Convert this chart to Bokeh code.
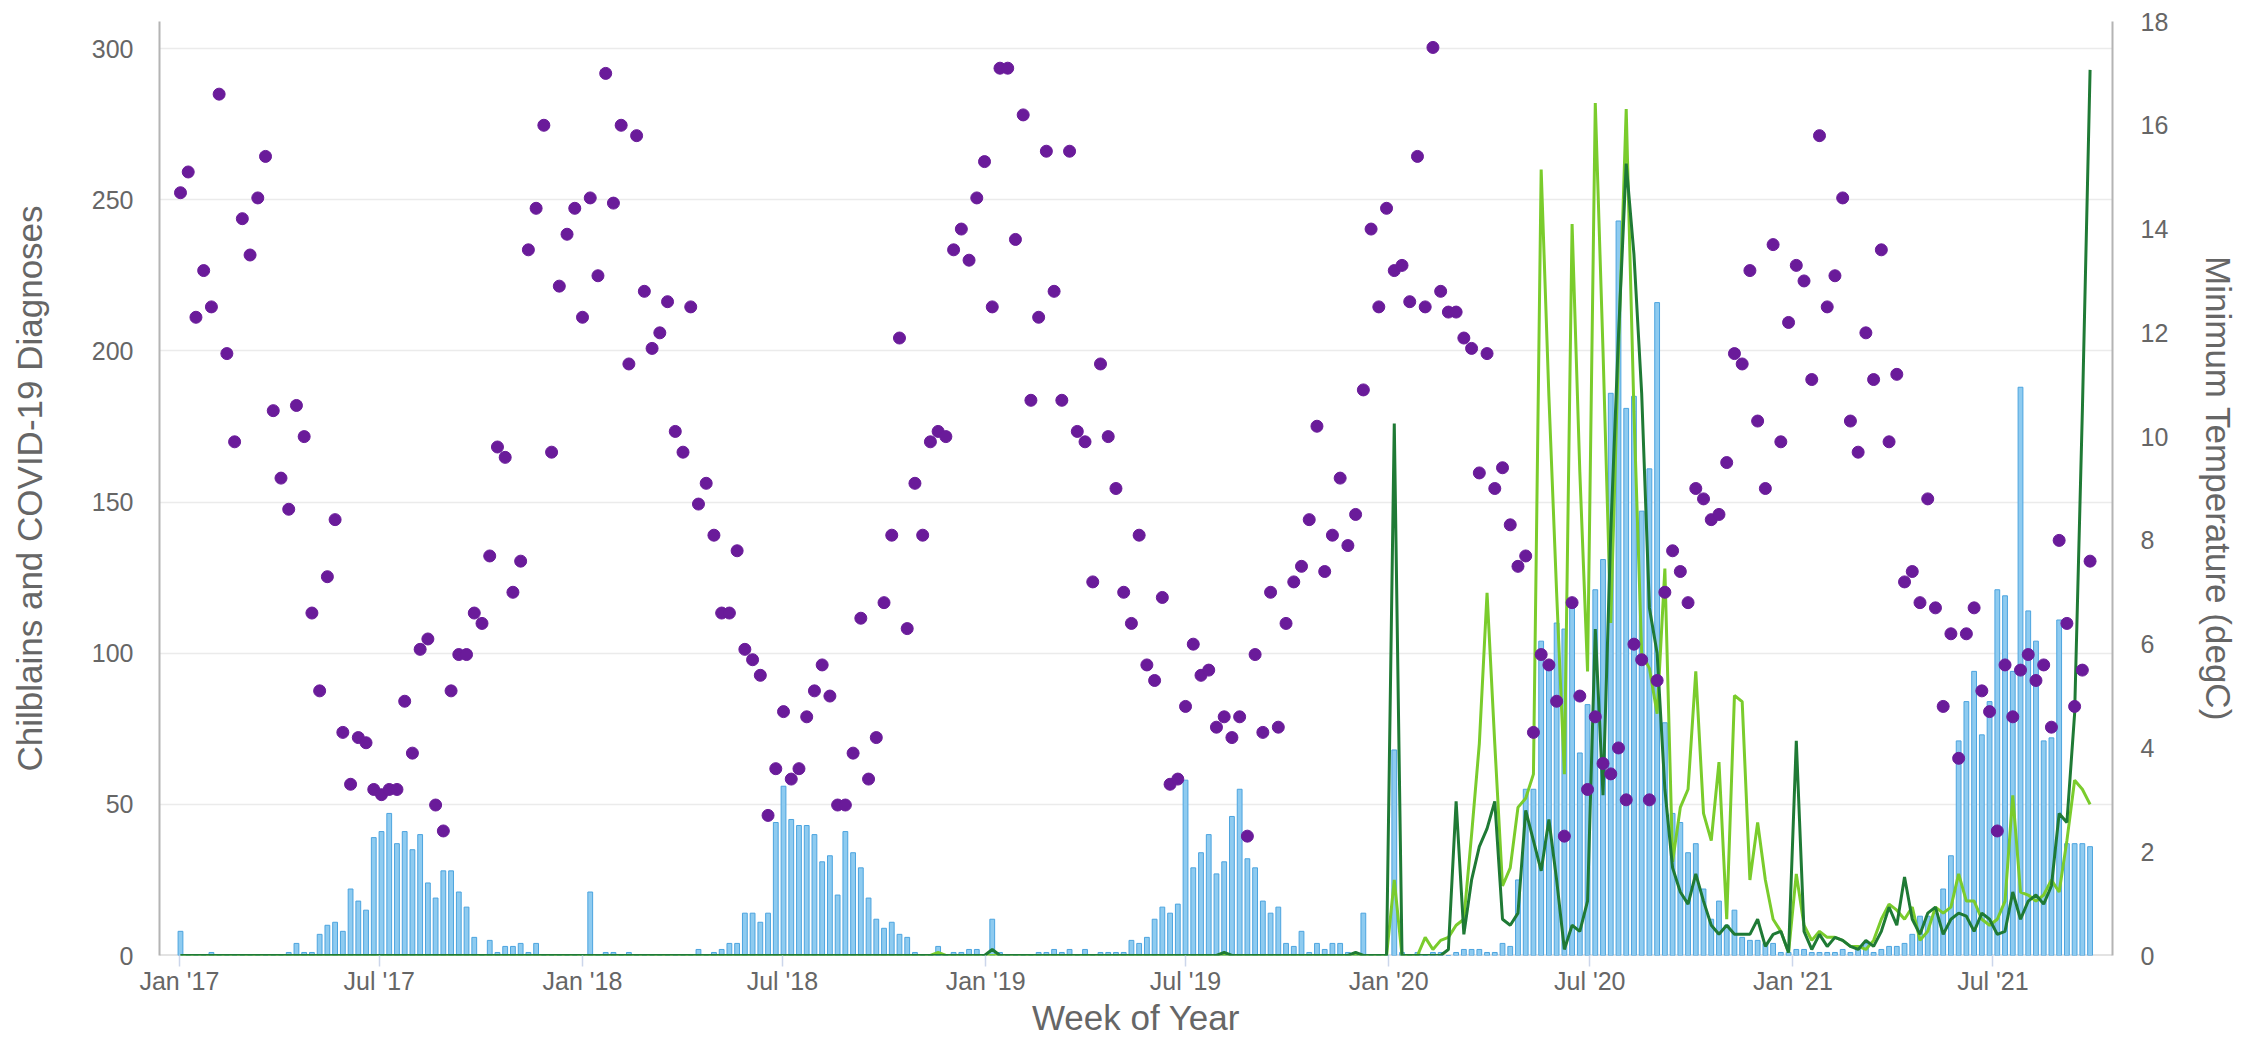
import datetime as dt
from bokeh.plotting import figure
from bokeh.models import (Range1d, LinearAxis, FixedTicker, DatetimeTickFormatter,
                          ColumnDataSource, SingleIntervalTicker, Span)
from bokeh.embed import file_html
from bokeh.resources import INLINE

FIRST_WEEK = dt.datetime(2017, 1, 2)
tick_dates = [dt.datetime(y, m, 1) for y in range(2017, 2022) for m in (1, 7)]

# weekly chilblains diagnoses (left axis)
chilblains = [
    8, 0, 0, 0, 1, 0, 0, 0, 0, 0,
    0, 0, 0, 0, 1, 4, 1, 1, 7, 10,
    11, 8, 22, 18, 15, 39, 41, 47, 37, 41,
    35, 40, 24, 19, 28, 28, 21, 16, 6, 0,
    5, 1, 3, 3, 4, 1, 4, 0, 0, 0,
    0, 0, 0, 21, 0, 1, 1, 0, 1, 0,
    0, 0, 0, 0, 0, 0, 0, 2, 0, 1,
    2, 4, 4, 14, 14, 11, 14, 44, 56, 45,
    43, 43, 40, 31, 33, 20, 41, 34, 29, 19,
    12, 9, 11, 7, 6, 1, 0, 0, 3, 0,
    1, 1, 2, 2, 0, 12, 1, 0, 0, 0,
    0, 1, 1, 2, 1, 2, 0, 2, 0, 1,
    1, 1, 1, 5, 4, 6, 12, 16, 14, 17,
    58, 29, 34, 40, 27, 31, 46, 55, 32, 29,
    18, 14, 16, 4, 3, 8, 1, 4, 2, 4,
    4, 1, 1, 14, 0, 0, 0, 68, 1, 0,
    1, 0, 1, 1, 0, 1, 2, 2, 2, 1,
    1, 4, 3, 25, 55, 55, 104, 97, 110, 108,
    117, 67, 83, 121, 131, 186, 243, 181, 185, 147,
    161, 216, 77, 47, 44, 34, 37, 22, 12, 18,
    10, 15, 6, 5, 5, 4, 4, 1, 1, 2,
    2, 1, 1, 1, 1, 2, 1, 2, 4, 1,
    2, 3, 3, 4, 7, 13, 13, 14, 22, 33,
    71, 84, 94, 73, 84, 121, 119, 94, 188, 114,
    104, 71, 72, 111, 37, 37, 37, 36,
]

# weekly COVID-19 diagnoses, first series (light green, left axis)
covid_a = [
    0, 0, 0, 0, 0, 0, 0, 0, 0, 0,
    0, 0, 0, 0, 0, 0, 0, 0, 0, 0,
    0, 0, 0, 0, 0, 0, 0, 0, 0, 0,
    0, 0, 0, 0, 0, 0, 0, 0, 0, 0,
    0, 0, 0, 0, 0, 0, 0, 0, 0, 0,
    0, 0, 0, 0, 0, 0, 0, 0, 0, 0,
    0, 0, 0, 0, 0, 0, 0, 0, 0, 0,
    0, 0, 0, 0, 0, 0, 0, 0, 0, 0,
    0, 0, 0, 0, 0, 0, 0, 0, 0, 0,
    0, 0, 0, 0, 0, 0, 0, 0, 1, 0,
    0, 0, 0, 0, 0, 0, 0, 0, 0, 0,
    0, 0, 0, 0, 0, 0, 0, 0, 0, 0,
    0, 0, 0, 0, 0, 0, 0, 0, 0, 0,
    0, 0, 0, 0, 0, 0, 0, 0, 0, 0,
    0, 0, 0, 0, 0, 0, 0, 0, 0, 0,
    0, 0, 0, 0, 0, 0, 0, 25, 0, 0,
    0, 6, 2, 5, 6, 10, 12, 40, 70, 120,
    70, 23, 29, 49, 52, 60, 260, 185, 120, 60,
    242, 160, 94, 282, 200, 110, 200, 280, 180, 100,
    95, 80, 128, 31, 49, 55, 94, 47, 38, 64,
    12, 86, 84, 25, 44, 25, 12, 8, 1, 27,
    10, 5, 8, 6, 6, 5, 3, 3, 2, 5,
    12, 17, 15, 12, 16, 5, 8, 16, 14, 16,
    27, 18, 18, 12, 10, 12, 18, 53, 21, 20,
    18, 20, 25, 21, 38, 58, 55, 50,
]

# weekly COVID-19 diagnoses, second series (dark green, left axis)
covid_b = [
    0, 0, 0, 0, 0, 0, 0, 0, 0, 0,
    0, 0, 0, 0, 0, 0, 0, 0, 0, 0,
    0, 0, 0, 0, 0, 0, 0, 0, 0, 0,
    0, 0, 0, 0, 0, 0, 0, 0, 0, 0,
    0, 0, 0, 0, 0, 0, 0, 0, 0, 0,
    0, 0, 0, 0, 0, 0, 0, 0, 0, 0,
    0, 0, 0, 0, 0, 0, 0, 0, 0, 0,
    0, 0, 0, 0, 0, 0, 0, 0, 0, 0,
    0, 0, 0, 0, 0, 0, 0, 0, 0, 0,
    0, 0, 0, 0, 0, 0, 0, 0, 0, 0,
    0, 0, 0, 0, 0, 2, 0, 0, 0, 0,
    0, 0, 0, 0, 0, 0, 0, 0, 0, 0,
    0, 0, 0, 0, 0, 0, 0, 0, 0, 0,
    0, 0, 0, 0, 0, 1, 0, 0, 0, 0,
    0, 0, 0, 0, 0, 0, 0, 0, 0, 0,
    0, 0, 1, 0, 0, 0, 0, 176, 0, 0,
    0, 0, 0, 0, 2, 51, 7, 25, 36, 42,
    51, 12, 10, 14, 48, 38, 28, 45, 25, 2,
    10, 8, 18, 108, 53, 140, 205, 262, 232, 186,
    115, 100, 55, 29, 21, 17, 27, 18, 10, 7,
    10, 7, 7, 7, 12, 3, 7, 8, 1, 71,
    8, 2, 7, 3, 6, 5, 3, 2, 5, 3,
    8, 16, 10, 26, 12, 7, 14, 16, 7, 12,
    14, 13, 8, 14, 12, 7, 8, 21, 12, 18,
    20, 17, 23, 47, 44, 80, 180, 293,
]

# weekly minimum temperature, degC (right axis)
min_temp = [
    14.7, 15.1, 12.3, 13.2, 12.5, 16.6, 11.6, 9.9, 14.2, 13.5,
    14.6, 15.4, 10.5, 9.2, 8.6, 10.6, 10.0, 6.6, 5.1, 7.3,
    8.4, 4.3, 3.3, 4.2, 4.1, 3.2, 3.1, 3.2, 3.2, 4.9,
    3.9, 5.9, 6.1, 2.9, 2.4, 5.1, 5.8, 5.8, 6.6, 6.4,
    7.7, 9.8, 9.6, 7.0, 7.6, 13.6, 14.4, 16.0, 9.7, 12.9,
    13.9, 14.4, 12.3, 14.6, 13.1, 17.0, 14.5, 16.0, 11.4, 15.8,
    12.8, 11.7, 12.0, 12.6, 10.1, 9.7, 12.5, 8.7, 9.1, 8.1,
    6.6, 6.6, 7.8, 5.9, 5.7, 5.4, 2.7, 3.6, 4.7, 3.4,
    3.6, 4.6, 5.1, 5.6, 5.0, 2.9, 2.9, 3.9, 6.5, 3.4,
    4.2, 6.8, 8.1, 11.9, 6.3, 9.1, 8.1, 9.9, 10.1, 10.0,
    13.6, 14.0, 13.4, 14.6, 15.3, 12.5, 17.1, 17.1, 13.8, 16.2,
    10.7, 12.3, 15.5, 12.8, 10.7, 15.5, 10.1, 9.9, 7.2, 11.4,
    10.0, 9.0, 7.0, 6.4, 8.1, 5.6, 5.3, 6.9, 3.3, 3.4,
    4.8, 6.0, 5.4, 5.5, 4.4, 4.6, 4.2, 4.6, 2.3, 5.8,
    4.3, 7.0, 4.4, 6.4, 7.2, 7.5, 8.4, 10.2, 7.4, 8.1,
    9.2, 7.9, 8.5, 10.9, 14.0, 12.5, 14.4, 13.2, 13.3, 12.6,
    15.4, 12.5, 17.5, 12.8, 12.4, 12.4, 11.9, 11.7, 9.3, 11.6,
    9.0, 9.4, 8.3, 7.5, 7.7, 4.3, 5.8, 5.6, 4.9, 2.3,
    6.8, 5.0, 3.2, 4.6, 3.7, 3.5, 4.0, 3.0, 6.0, 5.7,
    3.0, 5.3, 7.0, 7.8, 7.4, 6.8, 9.0, 8.8, 8.4, 8.5,
    9.5, 11.6, 11.4, 13.2, 10.3, 9.0, 13.7, 9.9, 12.2, 13.3,
    13.0, 11.1, 15.8, 12.5, 13.1, 14.6, 10.3, 9.7, 12.0, 11.1,
    13.6, 9.9, 11.2, 7.2, 7.4, 6.8, 8.8, 6.7, 4.8, 6.2,
    3.8, 6.2, 6.7, 5.1, 4.7, 2.4, 5.6, 4.6, 5.5, 5.8,
    5.3, 5.6, 4.4, 8.0, 6.4, 4.8, 5.5, 7.6,
]

weeks = [FIRST_WEEK + dt.timedelta(weeks=i) for i in range(len(chilblains))]
src = ColumnDataSource(dict(week=weeks, chilblains=chilblains, covid_a=covid_a,
                            covid_b=covid_b, min_temp=min_temp))

FONT = "Liberation Sans"
GREY = "#666666"
TICK_SIZE = "25px"
TITLE_SIZE = "35px"

x_start = FIRST_WEEK - dt.timedelta(days=19)
x_end = FIRST_WEEK + dt.timedelta(days=7 * 249.9)

p = figure(width=2244, height=1047, x_axis_type="datetime",
           x_range=Range1d(x_start, x_end), y_range=Range1d(0, 309),
           output_backend="svg", toolbar_location=None,
           min_border_left=159, min_border_right=132,
           min_border_top=21, min_border_bottom=92)
p.outline_line_color = None
p.background_fill_color = "white"
p.extra_y_ranges = {"temp": Range1d(0, 18)}

# grid
p.xgrid.grid_line_color = None
p.ygrid.grid_line_color = "#ebebeb"
p.ygrid.grid_line_width = 1.5

# baseline
p.add_layout(Span(location=0, dimension="width", line_color="#c8c8c8",
                  line_width=2, level="underlay"))

# glyphs
week_ms = 7 * 24 * 3600 * 1000
p.vbar(x="week", top="chilblains", width=week_ms * 0.62, source=src,
       fill_color="#8ecbf0", line_color="#4ca4df", line_width=1)
p.line("week", "covid_a", source=src, line_color="#7acc2c", line_width=3)
p.line("week", "covid_b", source=src, line_color="#1f7a35", line_width=3)
p.scatter("week", "min_temp", source=src, y_range_name="temp", size=12,
          fill_color="#6a1b9a", line_color="#6a1b9a")

# x axis
xa = p.xaxis[0]
xa.ticker = FixedTicker(ticks=[(d - dt.datetime(1970, 1, 1)).total_seconds() * 1000
                               for d in tick_dates])
fmt = "%b '%y"
xa.formatter = DatetimeTickFormatter(microseconds=fmt, milliseconds=fmt, seconds=fmt,
                                     minsec=fmt, minutes=fmt, hourmin=fmt, hours=fmt,
                                     days=fmt, months=fmt, years=fmt)
xa.axis_line_color = None
xa.major_tick_line_color = "#ccd6eb"
xa.major_tick_line_width = 1.5
xa.major_tick_out = 11
xa.major_tick_in = 0
xa.minor_tick_line_color = None
xa.major_label_standoff = 0
xa.major_label_text_font = FONT
xa.major_label_text_font_size = TICK_SIZE
xa.major_label_text_color = GREY
xa.axis_label = "Week of Year"
xa.axis_label_text_font = FONT
xa.axis_label_text_font_size = TITLE_SIZE
xa.axis_label_text_font_style = "normal"
xa.axis_label_text_color = GREY
xa.axis_label_standoff = 0

# left axis
ya = p.yaxis[0]
ya.ticker = SingleIntervalTicker(interval=50, num_minor_ticks=0)
ya.axis_line_color = "#b4b4b4"
ya.axis_line_width = 2
ya.major_tick_line_color = None
ya.minor_tick_line_color = None
ya.major_tick_out = 0
ya.major_tick_in = 0
ya.major_label_standoff = 26
ya.major_label_text_font = FONT
ya.major_label_text_font_size = TICK_SIZE
ya.major_label_text_color = GREY
ya.axis_label = "Chilblains and COVID-19 Diagnoses"
ya.axis_label_text_font = FONT
ya.axis_label_text_font_size = TITLE_SIZE
ya.axis_label_text_font_style = "normal"
ya.axis_label_text_color = GREY
ya.axis_label_standoff = 40

# right axis
ra = LinearAxis(y_range_name="temp",
                ticker=SingleIntervalTicker(interval=2, num_minor_ticks=0))
ra.axis_line_color = "#b4b4b4"
ra.axis_line_width = 2
ra.major_tick_line_color = None
ra.minor_tick_line_color = None
ra.major_tick_out = 0
ra.major_tick_in = 0
ra.major_label_standoff = 28
ra.major_label_text_font = FONT
ra.major_label_text_font_size = TICK_SIZE
ra.major_label_text_color = GREY
ra.axis_label = "Minimum Temperature (degC)"
ra.axis_label_text_font = FONT
ra.axis_label_text_font_size = TITLE_SIZE
ra.axis_label_text_font_style = "normal"
ra.axis_label_text_color = GREY
ra.axis_label_standoff = 28
p.add_layout(ra, "right")

open("out.html", "w").write(file_html(p, INLINE))
